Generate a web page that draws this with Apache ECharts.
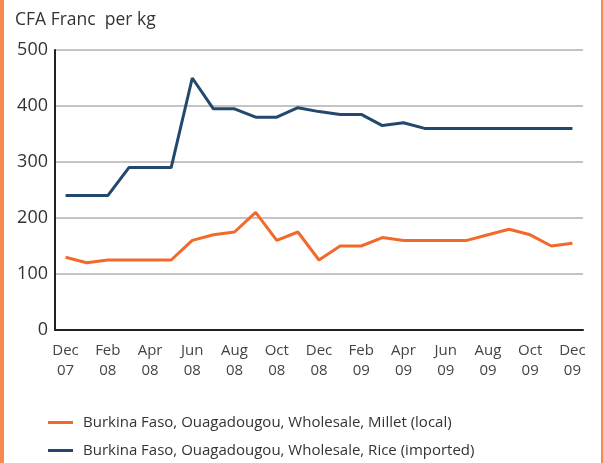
<!DOCTYPE html>
<html>
<head>
<meta charset="utf-8">
<script src="https://cdn.jsdelivr.net/npm/echarts@6/dist/echarts.min.js"></script>
<style>
  html, body { margin: 0; padding: 0; background: #fff; }
  #frame { position: relative; width: 603px; height: 463px; box-sizing: border-box;
           border-left: 4px solid #f58a4c; border-right: 2px solid #f58a4c; }
  #chart { position: absolute; left: -4px; top: 0; width: 603px; height: 463px; }
</style>
</head>
<body>
<div id="frame"><div id="chart"></div></div>
<script>
// Monthly wholesale prices, Ouagadougou, Dec 2007 - Dec 2009
const months = [
  'Dec\n07', 'Jan\n08', 'Feb\n08', 'Mar\n08', 'Apr\n08', 'May\n08', 'Jun\n08',
  'Jul\n08', 'Aug\n08', 'Sep\n08', 'Oct\n08', 'Nov\n08', 'Dec\n08',
  'Jan\n09', 'Feb\n09', 'Mar\n09', 'Apr\n09', 'May\n09', 'Jun\n09',
  'Jul\n09', 'Aug\n09', 'Sep\n09', 'Oct\n09', 'Nov\n09', 'Dec\n09'
];
const milletName = 'Burkina Faso, Ouagadougou, Wholesale, Millet (local)';
const riceName = 'Burkina Faso, Ouagadougou, Wholesale, Rice (imported)';
const millet = [130, 120, 125, 125, 125, 125, 160, 170, 175, 210, 160, 175, 125,
                150, 150, 165, 160, 160, 160, 160, 170, 180, 170, 150, 155];
const rice = [240, 240, 240, 290, 290, 290, 450, 395, 395, 380, 380, 397, 390,
              385, 385, 365, 370, 360, 360, 360, 360, 360, 360, 360, 360];
const yTicks = { min: 0, max: 500, interval: 100 };

const font = '"Open Sans", sans-serif';
const chart = echarts.init(document.getElementById('chart'), null, { renderer: 'canvas' });

// One legend block per series, stacked under the plot
function legendRow(name, top) {
  return {
    orient: 'vertical',
    left: 48, top: top,
    icon: 'rect',
    itemWidth: 25, itemHeight: 3,
    itemGap: 10,
    padding: 0,
    data: [name],
    textStyle: { fontFamily: font, fontSize: 15, color: '#333', padding: [0, 0, 0, 5] }
  };
}

chart.setOption({
  animation: false,
  textStyle: { fontFamily: font },
  title: {
    text: 'CFA Franc  per kg',
    left: 10, top: 6,
    textStyle: { fontFamily: font, fontSize: 17.5, fontWeight: 'normal', color: '#333' }
  },
  grid: { left: 55, right: 20, top: 50, bottom: 133, containLabel: false },
  legend: [legendRow(milletName, 415), legendRow(riceName, 443)],
  xAxis: [
    {
      type: 'category',
      data: months,
      boundaryGap: true,
      axisLine: { lineStyle: { color: '#222', width: 2 } },
      axisTick: { alignWithLabel: true, interval: 1, length: 8, lineStyle: { color: '#222', width: 2 } },
      axisLabel: { interval: 1, margin: 11, fontFamily: font, fontSize: 15, lineHeight: 20, color: '#444' }
    },
    {
      type: 'category',
      data: months,
      position: 'bottom',
      boundaryGap: true,
      axisLine: { show: false },
      axisTick: { alignWithLabel: true, interval: 0, length: 5, lineStyle: { color: '#222', width: 2 } },
      axisLabel: { show: false }
    }
  ],
  yAxis: {
    type: 'value',
    min: yTicks.min, max: yTicks.max, interval: yTicks.interval,
    axisLine: { show: true, lineStyle: { color: '#222', width: 2 } },
    axisTick: { show: false },
    axisLabel: { margin: 7, fontFamily: font, fontSize: 18, color: '#333' },
    splitLine: { lineStyle: { color: '#c4c4c4', width: 2 } }
  },
  series: [
    {
      name: milletName, type: 'line', data: millet,
      showSymbol: false, symbol: 'none',
      lineStyle: { color: '#f26a2b', width: 3 }, itemStyle: { color: '#f26a2b' },
      z: 3
    },
    {
      name: riceName, type: 'line', data: rice,
      showSymbol: false, symbol: 'none',
      lineStyle: { color: '#23486d', width: 3 }, itemStyle: { color: '#23486d' },
      z: 3
    }
  ]
});
</script>
</body>
</html>
